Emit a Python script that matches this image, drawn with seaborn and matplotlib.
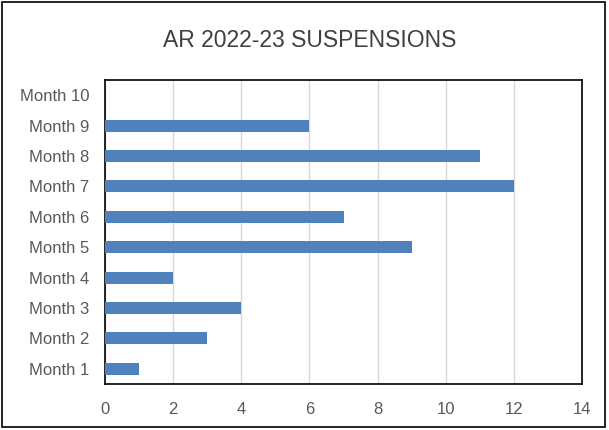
import matplotlib
matplotlib.use("Agg")
import matplotlib.pyplot as plt
import seaborn as sns
import pandas as pd

months = ["Month 1", "Month 2", "Month 3", "Month 4", "Month 5",
          "Month 6", "Month 7", "Month 8", "Month 9", "Month 10"]
suspensions = [1, 3, 4, 2, 9, 7, 12, 11, 6, 0]
xticks = [0, 2, 4, 6, 8, 10, 12, 14]

df = pd.DataFrame({"month": months, "count": suspensions})

sns.set_style("white")
plt.rcParams["font.family"] = ["Liberation Sans", "DejaVu Sans"]

fig = plt.figure(figsize=(6.09, 4.30), dpi=100)
ax = fig.add_axes([0.1724, 0.107, 0.7833, 0.707])

sns.barplot(data=df, x="count", y="month", order=months[::-1],
            color="#4F81BD", saturation=1, width=0.4, linewidth=0,
            ax=ax, zorder=3)

ax.set_xlim(0, 14)
ax.set_xticks(xticks)
ax.grid(axis="x", color="#D9D9D9", linewidth=1, zorder=0)
ax.set_xlabel("")
ax.set_ylabel("")
ax.tick_params(axis="both", colors="#595959", labelsize=12, length=0)
ax.tick_params(axis="y", pad=11)
ax.tick_params(axis="x", pad=13)
for s in ax.spines.values():
    s.set_color("black")
    s.set_linewidth(1.2)

fig.text(0.508, 0.905, "AR 2022-23 SUSPENSIONS", ha="center", va="center",
         fontsize=16.5, color="#404040")

fig.patches.append(plt.Rectangle((0.004, 0.006), 0.99, 0.99, transform=fig.transFigure,
                                 fill=False, edgecolor="black", linewidth=1.2))

fig.savefig("out.png", dpi=100)
